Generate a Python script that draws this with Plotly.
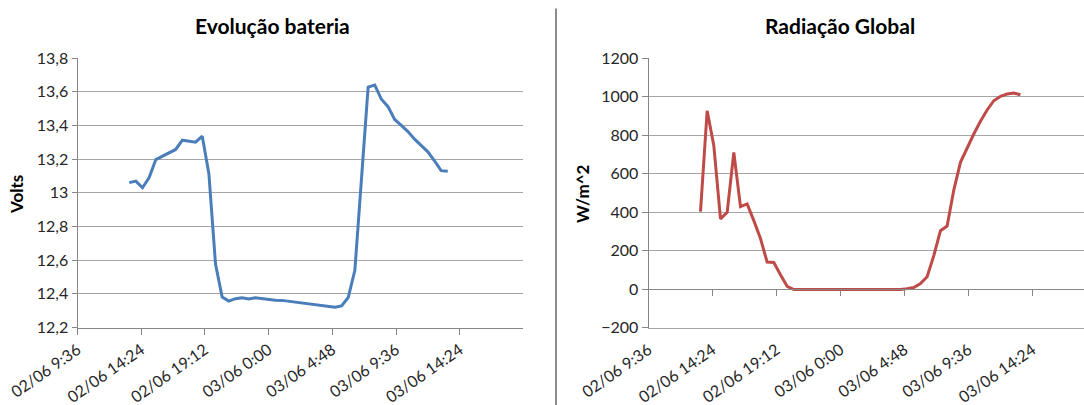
import pandas as pd
import plotly.graph_objects as go

# Half-hourly readings, 02/06 13:30 -> 03/06 13:30
tempos = pd.date_range("2014-06-02 13:30", periods=49, freq="30min")

bateria_volts = [
    13.06, 13.069, 13.03, 13.09, 13.197, 13.217, 13.242, 13.257, 13.312, 13.306,
    13.30, 13.336, 13.113, 12.576, 12.381, 12.357, 12.371, 12.377, 12.369, 12.377,
    12.372, 12.366, 12.362, 12.361, 12.356, 12.35, 12.345, 12.34, 12.334, 12.328,
    12.323, 12.321, 12.328, 12.378, 12.54, 13.09, 13.627, 13.639, 13.555, 13.511,
    13.435, 13.40, 13.363, 13.318, 13.279, 13.243, 13.19, 13.131, 13.128,
]

radiacao_wm2 = [
    402, 926, 744, 364, 398, 710, 428, 442, 355, 262,
    140, 138, 74, 14, -3, -3, -3, -3, -3, -3,
    -3, -3, -3, -3, -3, -3, -3, -3, -3, -3,
    -3, 2, 8, 28, 64, 173, 303, 327, 514, 658,
    736, 805, 871, 930, 978, 1001, 1013, 1018, 1009,
]

x_tick_vals = [
    "2014-06-02 09:36", "2014-06-02 14:24", "2014-06-02 19:12", "2014-06-03 00:00",
    "2014-06-03 04:48", "2014-06-03 09:36", "2014-06-03 14:24",
]
x_tick_text = [
    "02/06 9:36", "02/06 14:24", "02/06 19:12", "03/06 0:00",
    "03/06 4:48", "03/06 9:36", "03/06 14:24",
]
volt_tick_vals = [12.2, 12.4, 12.6, 12.8, 13.0, 13.2, 13.4, 13.6, 13.8]
volt_tick_text = ["12,2", "12,4", "12,6", "12,8", "13", "13,2", "13,4", "13,6", "13,8"]
rad_tick_vals = [-200, 0, 200, 400, 600, 800, 1000, 1200]

FONT = "Lato"
TXT = "#262626"
GRID = "#a6a6a6"
AXIS = "#868686"
tick_font = dict(family=FONT, size=16, color=TXT)
X_ANGLE = -35

fig = go.Figure()
fig.add_trace(go.Scatter(
    x=tempos, y=bateria_volts, mode="lines", xaxis="x", yaxis="y",
    line=dict(color="#4A7EBB", width=3), showlegend=False,
))
fig.add_trace(go.Scatter(
    x=tempos, y=radiacao_wm2, mode="lines", xaxis="x2", yaxis="y2",
    line=dict(color="#BE4B48", width=3), showlegend=False,
))
# empty trace so the crossing axis at y=0 gets drawn
fig.add_trace(go.Scatter(x=[], y=[], xaxis="x3", yaxis="y2", showlegend=False))

y_dom = [1 - 327.5 / 405, 1 - 58 / 405]

fig.update_layout(
    width=1084, height=405,
    margin=dict(l=0, r=0, t=0, b=0, autoexpand=False),
    paper_bgcolor="white", plot_bgcolor="white",
    font=dict(family=FONT, color=TXT),
    xaxis=dict(
        domain=[77.5 / 1084, 523.4 / 1084], anchor="y", type="date",
        range=["2014-06-02 09:36", "2014-06-03 19:12"],
        tickvals=x_tick_vals, ticktext=x_tick_text, tickangle=X_ANGLE, tickfont=tick_font,
        showgrid=False, showline=True, linecolor=AXIS, linewidth=1,
        ticks="outside", ticklen=6, tickcolor=AXIS, zeroline=False, automargin=False,
    ),
    yaxis=dict(
        domain=y_dom, anchor="x", range=[12.2, 13.8],
        tickvals=volt_tick_vals, ticktext=volt_tick_text, tickfont=tick_font,
        showgrid=True, gridcolor=GRID, gridwidth=1,
        showline=True, linecolor=AXIS, linewidth=1,
        ticks="outside", ticklen=5, tickcolor=AXIS, zeroline=False, automargin=False,
    ),
    xaxis2=dict(
        domain=[648.5 / 1084, 1.0], anchor="y2", type="date",
        range=["2014-06-02 09:36", "2014-06-03 18:16"],
        tickvals=x_tick_vals, ticktext=x_tick_text, tickangle=X_ANGLE, tickfont=tick_font,
        showgrid=False, showline=True, linecolor=GRID, linewidth=1,
        ticks="outside", ticklen=6, tickcolor="rgba(0,0,0,0)", zeroline=False,
        automargin=False,
    ),
    xaxis3=dict(
        overlaying="x2", anchor="free", position=1 - 288.5 / 405, type="date",
        range=["2014-06-02 09:36", "2014-06-03 18:16"],
        tickvals=x_tick_vals, showticklabels=False,
        showgrid=False, showline=True, linecolor=AXIS, linewidth=1,
        ticks="outside", ticklen=6, tickcolor=AXIS, zeroline=False, automargin=False,
    ),
    yaxis2=dict(
        domain=y_dom, anchor="x2", range=[-200, 1200],
        tickvals=rad_tick_vals, tickfont=tick_font,
        showgrid=True, gridcolor=GRID, gridwidth=1,
        showline=True, linecolor=AXIS, linewidth=1,
        ticks="outside", ticklen=6, tickcolor=AXIS, zeroline=False, automargin=False,
    ),
    shapes=[dict(
        type="line", xref="paper", yref="paper",
        x0=556 / 1084, x1=556 / 1084, y0=0, y1=1 - 8.6 / 405,
        line=dict(color="#8c8c8c", width=2),
    )],
    annotations=[
        dict(text="<b>Evolução bateria</b>", xref="paper", yref="paper",
             x=272 / 1084, y=1 - 25 / 405, xanchor="center", yanchor="middle",
             showarrow=False, font=dict(family=FONT, size=21, color="black")),
        dict(text="<b>Radiação Global</b>", xref="paper", yref="paper",
             x=839.6 / 1084, y=1 - 25 / 405, xanchor="center", yanchor="middle",
             showarrow=False, font=dict(family=FONT, size=21, color="black")),
        dict(text="<b>Volts</b>", xref="paper", yref="paper",
             x=17 / 1084, y=1 - 195 / 405, xanchor="center", yanchor="middle",
             textangle=-90, showarrow=False, font=dict(family=FONT, size=17, color="black")),
        dict(text="<b>W/m^2</b>", xref="paper", yref="paper",
             x=583 / 1084, y=1 - 194 / 405, xanchor="center", yanchor="middle",
             textangle=-90, showarrow=False, font=dict(family=FONT, size=17, color="black")),
    ],
)

fig.write_html("out.html")
